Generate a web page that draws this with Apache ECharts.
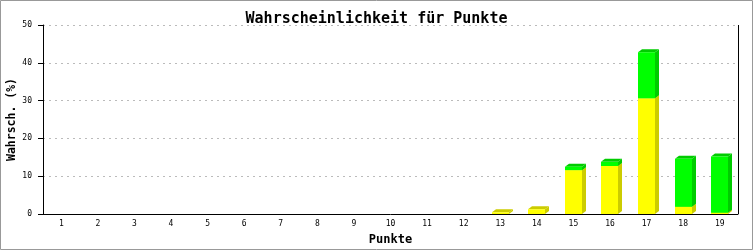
<!DOCTYPE html>
<html>
<head>
<meta charset="utf-8">
<script src="https://cdn.jsdelivr.net/npm/echarts@6/dist/echarts.min.js"></script>
<style>
html,body{margin:0;padding:0;background:#fff;}
#chart{width:753px;height:250px;}
</style>
</head>
<body>
<div id="chart"></div>
<script>
var titleText = 'Wahrscheinlichkeit für Punkte';
var xAxisName = 'Punkte';
var yAxisName = 'Wahrsch. (%)';
var categories = ['1','2','3','4','5','6','7','8','9','10','11','12','13','14','15','16','17','18','19'];
var yellowValues = [0,0,0,0,0,0,0,0,0,0,0,0,0.45,1.25,11.6,12.7,30.6,1.9,0.35];
var greenValues  = [0,0,0,0,0,0,0,0,0,0,0,0,0,0,0.9,1.1,12.2,12.7,14.85];
var yTicks = [0,10,20,30,40,50];

var FONT = '"DejaVu Sans Mono", monospace';
var DX = 4, DY = 3;

function makeData(base, vals) {
  return vals.map(function (v, i) {
    var b = base ? base[i] : 0;
    return [i, b, b + v, v];
  });
}

function render3D(front, shade) {
  return function (params, api) {
    var v = api.value(3);
    if (!v) return null;
    var idx = api.value(0);
    var p0 = api.coord([idx, api.value(1)]);
    var p1 = api.coord([idx, api.value(2)]);
    var w = Math.round(api.size([1, 0])[0] * 0.465);
    var x0 = Math.round(p0[0] - w / 2);
    var x1 = x0 + w;
    var yb = p0[1];
    var yt = p1[1];
    return {
      type: 'group',
      children: [
        { type: 'polygon', shape: { points: [[x1, yb], [x1 + DX, yb - DY], [x1 + DX, yt - DY], [x1, yt]] },
          style: { fill: shade } },
        { type: 'polygon', shape: { points: [[x0, yt], [x0 + DX, yt - DY], [x1 + DX, yt - DY], [x1, yt]] },
          style: { fill: shade } },
        { type: 'rect', shape: { x: x0, y: yt, width: w, height: yb - yt },
          style: { fill: front } }
      ]
    };
  };
}

var chart = echarts.init(document.getElementById('chart'), null, { renderer: 'canvas' });
chart.setOption({
  backgroundColor: '#ffffff',
  animation: false,
  title: {
    text: titleText,
    left: 'center',
    top: 6,
    textStyle: { fontFamily: FONT, fontSize: 15, fontWeight: 'bold', color: '#000', lineHeight: 16 }
  },
  graphic: [{
    type: 'rect', shape: { x: 0.5, y: 0.5, width: 752, height: 249 },
    style: { fill: null, stroke: '#999', lineWidth: 1 }, z: 100
  }, {
    type: 'line', shape: { x1: 738.5, y1: 25, x2: 738.5, y2: 214 },
    style: { stroke: '#000', lineWidth: 1 }, z: 50
  }],
  grid: { left: 43, right: 15, top: 25, bottom: 36, containLabel: false, outerBoundsMode: 'none' },
  xAxis: {
    type: 'category',
    data: categories,
    name: xAxisName,
    nameLocation: 'middle',
    nameGap: 20,
    nameMoveOverlap: false,
    nameTextStyle: { fontFamily: FONT, fontSize: 12, fontWeight: 'bold', color: '#000' },
    axisLine: { lineStyle: { color: '#000', width: 1 } },
    axisTick: { show: false },
    axisLabel: { fontFamily: FONT, fontSize: 8, color: '#000', margin: 6, interval: 0 },
    splitLine: { show: false }
  },
  yAxis: {
    type: 'value',
    min: 0, max: 50, interval: 10,
    name: yAxisName,
    nameLocation: 'middle',
    nameRotate: 90,
    nameGap: 25,
    nameMoveOverlap: false,
    nameTextStyle: { fontFamily: FONT, fontSize: 11.5, fontWeight: 'bold', color: '#000' },
    axisLine: { show: true, lineStyle: { color: '#000', width: 1 } },
    axisTick: { show: true, length: 5, lineStyle: { color: '#000' } },
    axisLabel: { fontFamily: FONT, fontSize: 8, color: '#000', margin: 11,
      formatter: function (v) { return yTicks.indexOf(v) >= 0 ? String(v) : ''; } },
    splitLine: { show: true, lineStyle: { color: '#bbb', type: [2, 4], width: 1 } }
  },
  series: [{
    type: 'custom',
    renderItem: render3D('#ffff00', '#cccc00'),
    encode: { x: 0, y: [1, 2] },
    data: makeData(null, yellowValues),
    z: 2
  }, {
    type: 'custom',
    renderItem: render3D('#00ff00', '#00cc00'),
    encode: { x: 0, y: [1, 2] },
    data: makeData(yellowValues, greenValues),
    z: 3
  }]
});
</script>
</body>
</html>
